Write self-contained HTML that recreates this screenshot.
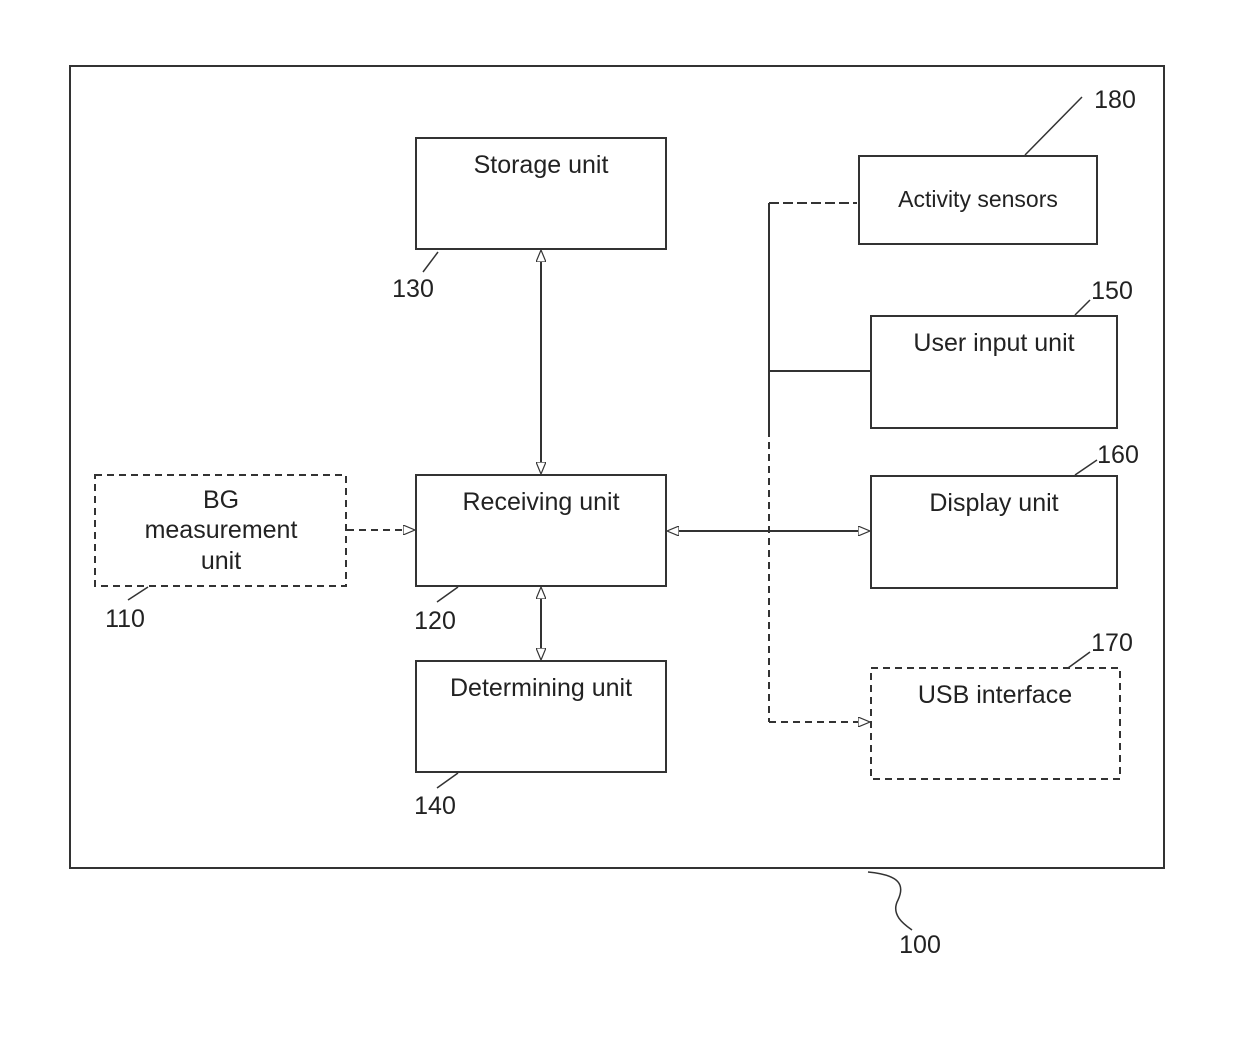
<!DOCTYPE html>
<html><head><style>
html,body{margin:0;padding:0;background:#fff;}
svg{display:block;}
text{font-family:"Liberation Sans",sans-serif;fill:#222;}
</style></head><body>
<svg width="1240" height="1048" viewBox="0 0 1240 1048" xmlns="http://www.w3.org/2000/svg">
<defs>
<marker id="a" markerWidth="12" markerHeight="10" refX="11" refY="5" orient="auto-start-reverse" markerUnits="userSpaceOnUse">
<path d="M0,0 L12,5 L0,10 Z" fill="#fff" stroke="#333" stroke-width="1.2"/>
</marker>
</defs>
<g fill="none" stroke="#333" stroke-width="2">
<rect x="70" y="66" width="1094" height="802"/>
<rect x="416" y="138" width="250" height="111"/>
<rect x="859" y="156" width="238" height="88"/>
<rect x="871" y="316" width="246" height="112"/>
<rect x="871" y="476" width="246" height="112"/>
<rect x="416" y="475" width="250" height="111"/>
<rect x="416" y="661" width="250" height="111"/>
<rect x="871" y="668" width="249" height="111" stroke-dasharray="7,5"/>
<rect x="95" y="475" width="251" height="111" stroke-dasharray="7,5"/>
<line x1="541" y1="251" x2="541" y2="473" marker-start="url(#a)" marker-end="url(#a)"/>
<line x1="541" y1="588" x2="541" y2="659" marker-start="url(#a)" marker-end="url(#a)"/>
<line x1="668" y1="531" x2="869" y2="531" marker-start="url(#a)" marker-end="url(#a)"/>
<line x1="347" y1="530" x2="414" y2="530" stroke-dasharray="7,5" marker-end="url(#a)"/>
<line x1="769" y1="203" x2="769" y2="430"/>
<line x1="769" y1="430" x2="769" y2="722" stroke-dasharray="7,5"/>
<line x1="769" y1="203" x2="857" y2="203" stroke-dasharray="10,4"/>
<line x1="769" y1="371" x2="870" y2="371"/>
<line x1="769" y1="722" x2="869" y2="722" stroke-dasharray="7,5" marker-end="url(#a)"/>
<g stroke-width="1.5">
<line x1="1025" y1="155" x2="1082" y2="97"/>
<line x1="423" y1="272" x2="438" y2="252"/>
<line x1="1075" y1="315" x2="1090" y2="300"/>
<line x1="1075" y1="475" x2="1097" y2="460"/>
<line x1="1068" y1="668" x2="1090" y2="652"/>
<line x1="128" y1="600" x2="148" y2="587"/>
<line x1="437" y1="602" x2="458" y2="587"/>
<line x1="437" y1="788" x2="458" y2="773"/>
<path d="M868,872 C900,875 905,885 898,900 C890,915 905,925 912,930"/>
</g>
</g>
<g font-size="25" text-anchor="middle">
<text x="541" y="173">Storage unit</text>
<text x="978" y="207" font-size="23">Activity sensors</text>
<text x="994" y="351">User input unit</text>
<text x="994" y="511">Display unit</text>
<text x="995" y="703">USB interface</text>
<text x="541" y="510">Receiving unit</text>
<text x="541" y="696">Determining unit</text>
<text x="221" y="508">BG</text>
<text x="221" y="538">measurement</text>
<text x="221" y="569">unit</text>
<text x="1115" y="108">180</text>
<text x="413" y="297">130</text>
<text x="1112" y="299">150</text>
<text x="1118" y="463">160</text>
<text x="1112" y="651">170</text>
<text x="125" y="627">110</text>
<text x="435" y="629">120</text>
<text x="435" y="814">140</text>
<text x="920" y="953">100</text>
</g>
</svg>
</body></html>
